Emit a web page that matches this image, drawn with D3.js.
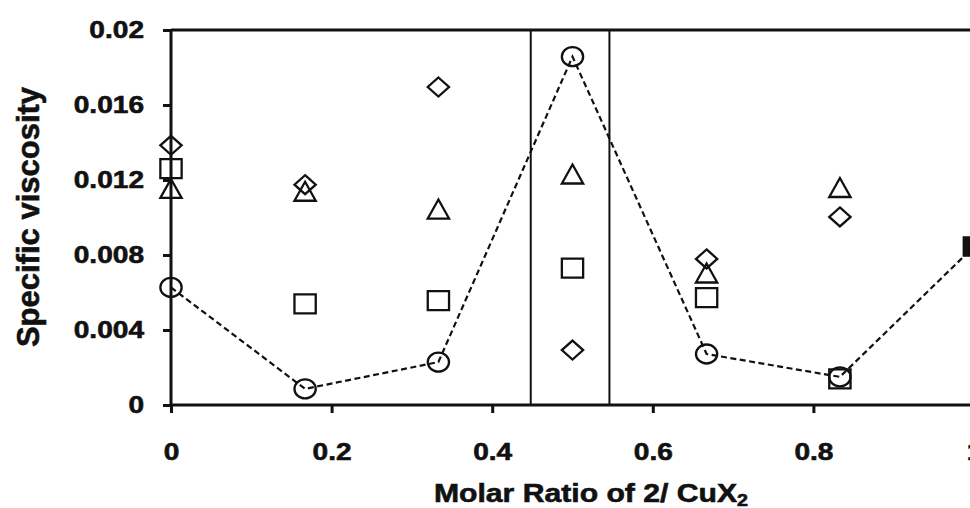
<!DOCTYPE html>
<html>
<head>
<meta charset="utf-8">
<script src="https://cdn.jsdelivr.net/npm/d3@7"></script>
<style>
  html, body { margin: 0; padding: 0; background: #fff; }
  svg { display: block; }
  text { font-family: "Liberation Sans", Arial, sans-serif; font-weight: bold; fill: #111; }
</style>
</head>
<body>
<svg id="chart" width="970" height="508"></svg>
<script>
// Molar ratios of ligand 2 to CuX2
const ratios = [0, 0.167, 0.333, 0.5, 0.667, 0.833];
const endRatio = 1;

// Specific viscosity, one array per marker series
const circleSeries   = [0.00627, 0.00086, 0.00229, 0.01858, 0.00272, 0.00150];
const diamondSeries  = [0.01385, 0.01175, 0.01696, 0.00293, 0.00779, 0.01003];
const triangleSeries = [0.01155, 0.01140, 0.01045, 0.01232, 0.00704, 0.01160];
const squareSeries   = [0.01261, 0.00539, 0.00557, 0.00730, 0.00573, 0.00139];
// filled square that closes the dashed curve at ratio 1
const endValue = 0.00845;

// Vertical guide lines bracketing the 1:1 ratio
const guideRatios = [0.448, 0.546];

const xTicks = [0, 0.2, 0.4, 0.6, 0.8, 1];
const xTickLabels = ["0", "0.2", "0.4", "0.6", "0.8", "1"];
const yTicks = [0, 0.004, 0.008, 0.012, 0.016, 0.02];
const yTickLabels = ["0", "0.004", "0.008", "0.012", "0.016", "0.02"];

const xTitle = "Molar Ratio of 2/ CuX";
const xTitleSub = "2";
const yTitle = "Specific viscosity";

const svg = d3.select("#chart");
const W = 970, H = 508;
const margin = { left: 171, top: 30, bottom: 103 };
const plotRight = 974;

const x = d3.scaleLinear().domain([0, 1]).range([margin.left, plotRight]);
const y = d3.scaleLinear().domain([0, 0.02]).range([H - margin.bottom, margin.top]);

const ink = "#111";
const stretch = 1.17; // glyphs are drawn slightly wide

svg.append("rect").attr("width", W).attr("height", H).attr("fill", "#fff");

// guide lines
svg.append("g").selectAll("line").data(guideRatios).join("line")
  .attr("x1", d => x(d)).attr("x2", d => x(d))
  .attr("y1", y(0)).attr("y2", y(0.02))
  .attr("stroke", ink).attr("stroke-width", 2);

// top frame line
svg.append("line")
  .attr("x1", x(0)).attr("x2", x(1))
  .attr("y1", y(0.02)).attr("y2", y(0.02))
  .attr("stroke", ink).attr("stroke-width", 3);

// axes
const xAxis = d3.axisBottom(x).tickValues(xTicks)
  .tickFormat((d, i) => xTickLabels[i]).tickSize(8).tickPadding(30);
const yAxis = d3.axisLeft(y).tickValues(yTicks)
  .tickFormat((d, i) => yTickLabels[i]).tickSize(8).tickPadding(19);

function styleAxis(g) {
  g.select(".domain").attr("stroke", ink).attr("stroke-width", 3);
  g.selectAll(".tick line").attr("stroke", ink).attr("stroke-width", 3);
  g.selectAll(".tick text")
    .attr("font-family", "Liberation Sans, Arial, sans-serif")
    .attr("font-weight", "bold").attr("font-size", 24).attr("fill", ink)
    .attr("stroke", ink).attr("stroke-width", 0.6)
    .attr("transform", function () {
      const tx = +d3.select(this).attr("x") || 0;
      return `translate(${tx},0) scale(${stretch},1) translate(${-tx},0)`;
    });
}

svg.append("g").attr("transform", `translate(0,${y(0)})`)
  .call(xAxis).call(g => g.select(".domain").attr("d", `M${x(0)},0H${x(1)}`)).call(styleAxis);
svg.append("g").attr("transform", `translate(${x(0)},0)`)
  .call(yAxis).call(g => g.select(".domain").attr("d", `M0,${y(0)}V${y(0.02)}`)).call(styleAxis);

// axis titles
const xt = svg.append("text")
  .attr("transform", `translate(591,502) scale(1.16,1)`)
  .attr("text-anchor", "middle").attr("font-size", 26)
  .attr("stroke", ink).attr("stroke-width", 0.6);
xt.append("tspan").text(xTitle);
xt.append("tspan").attr("font-size", 17).attr("dy", 4).text(xTitleSub);

svg.append("text")
  .attr("transform", `translate(39,217) rotate(-90)`)
  .attr("text-anchor", "middle").attr("font-size", 31)
  .attr("stroke", ink).attr("stroke-width", 0.6)
  .text(yTitle);

// dashed curve through the circle series and the end point
const curvePts = ratios.map((r, i) => [r, circleSeries[i]]).concat([[endRatio, endValue]]);
svg.append("path")
  .datum(curvePts)
  .attr("d", d3.line().x(d => x(d[0])).y(d => y(d[1])))
  .attr("fill", "none").attr("stroke", ink)
  .attr("stroke-width", 2.2).attr("stroke-dasharray", "6,3.5");

// marker shapes (slightly wider than tall)
const sx = 1.12, r = 9.5;
const shapes = {
  circle:   `M${-r * sx},0A${r * sx},${r} 0 1,0 ${r * sx},0A${r * sx},${r} 0 1,0 ${-r * sx},0Z`,
  diamond:  `M0,${-r}L${r * sx},0L0,${r}L${-r * sx},0Z`,
  triangle: `M0,${-r}L${r * sx},${r}L${-r * sx},${r}Z`,
  square:   `M${-r * sx},${-r}H${r * sx}V${r}H${-r * sx}Z`
};

function drawMarkers(values, shape) {
  svg.append("g").selectAll("path").data(values).join("path")
    .attr("transform", (d, i) => `translate(${x(ratios[i])},${y(d)})`)
    .attr("d", shapes[shape])
    .attr("fill", "none")
    .attr("stroke", ink).attr("stroke-width", 2.3);
}

drawMarkers(squareSeries, "square");
drawMarkers(triangleSeries, "triangle");
drawMarkers(diamondSeries, "diamond");
drawMarkers(circleSeries, "circle");

// filled end marker
svg.append("path")
  .attr("transform", `translate(${x(endRatio)},${y(endValue)})`)
  .attr("d", shapes.square)
  .attr("fill", ink).attr("stroke", ink).attr("stroke-width", 1.5);
</script>
</body>
</html>
